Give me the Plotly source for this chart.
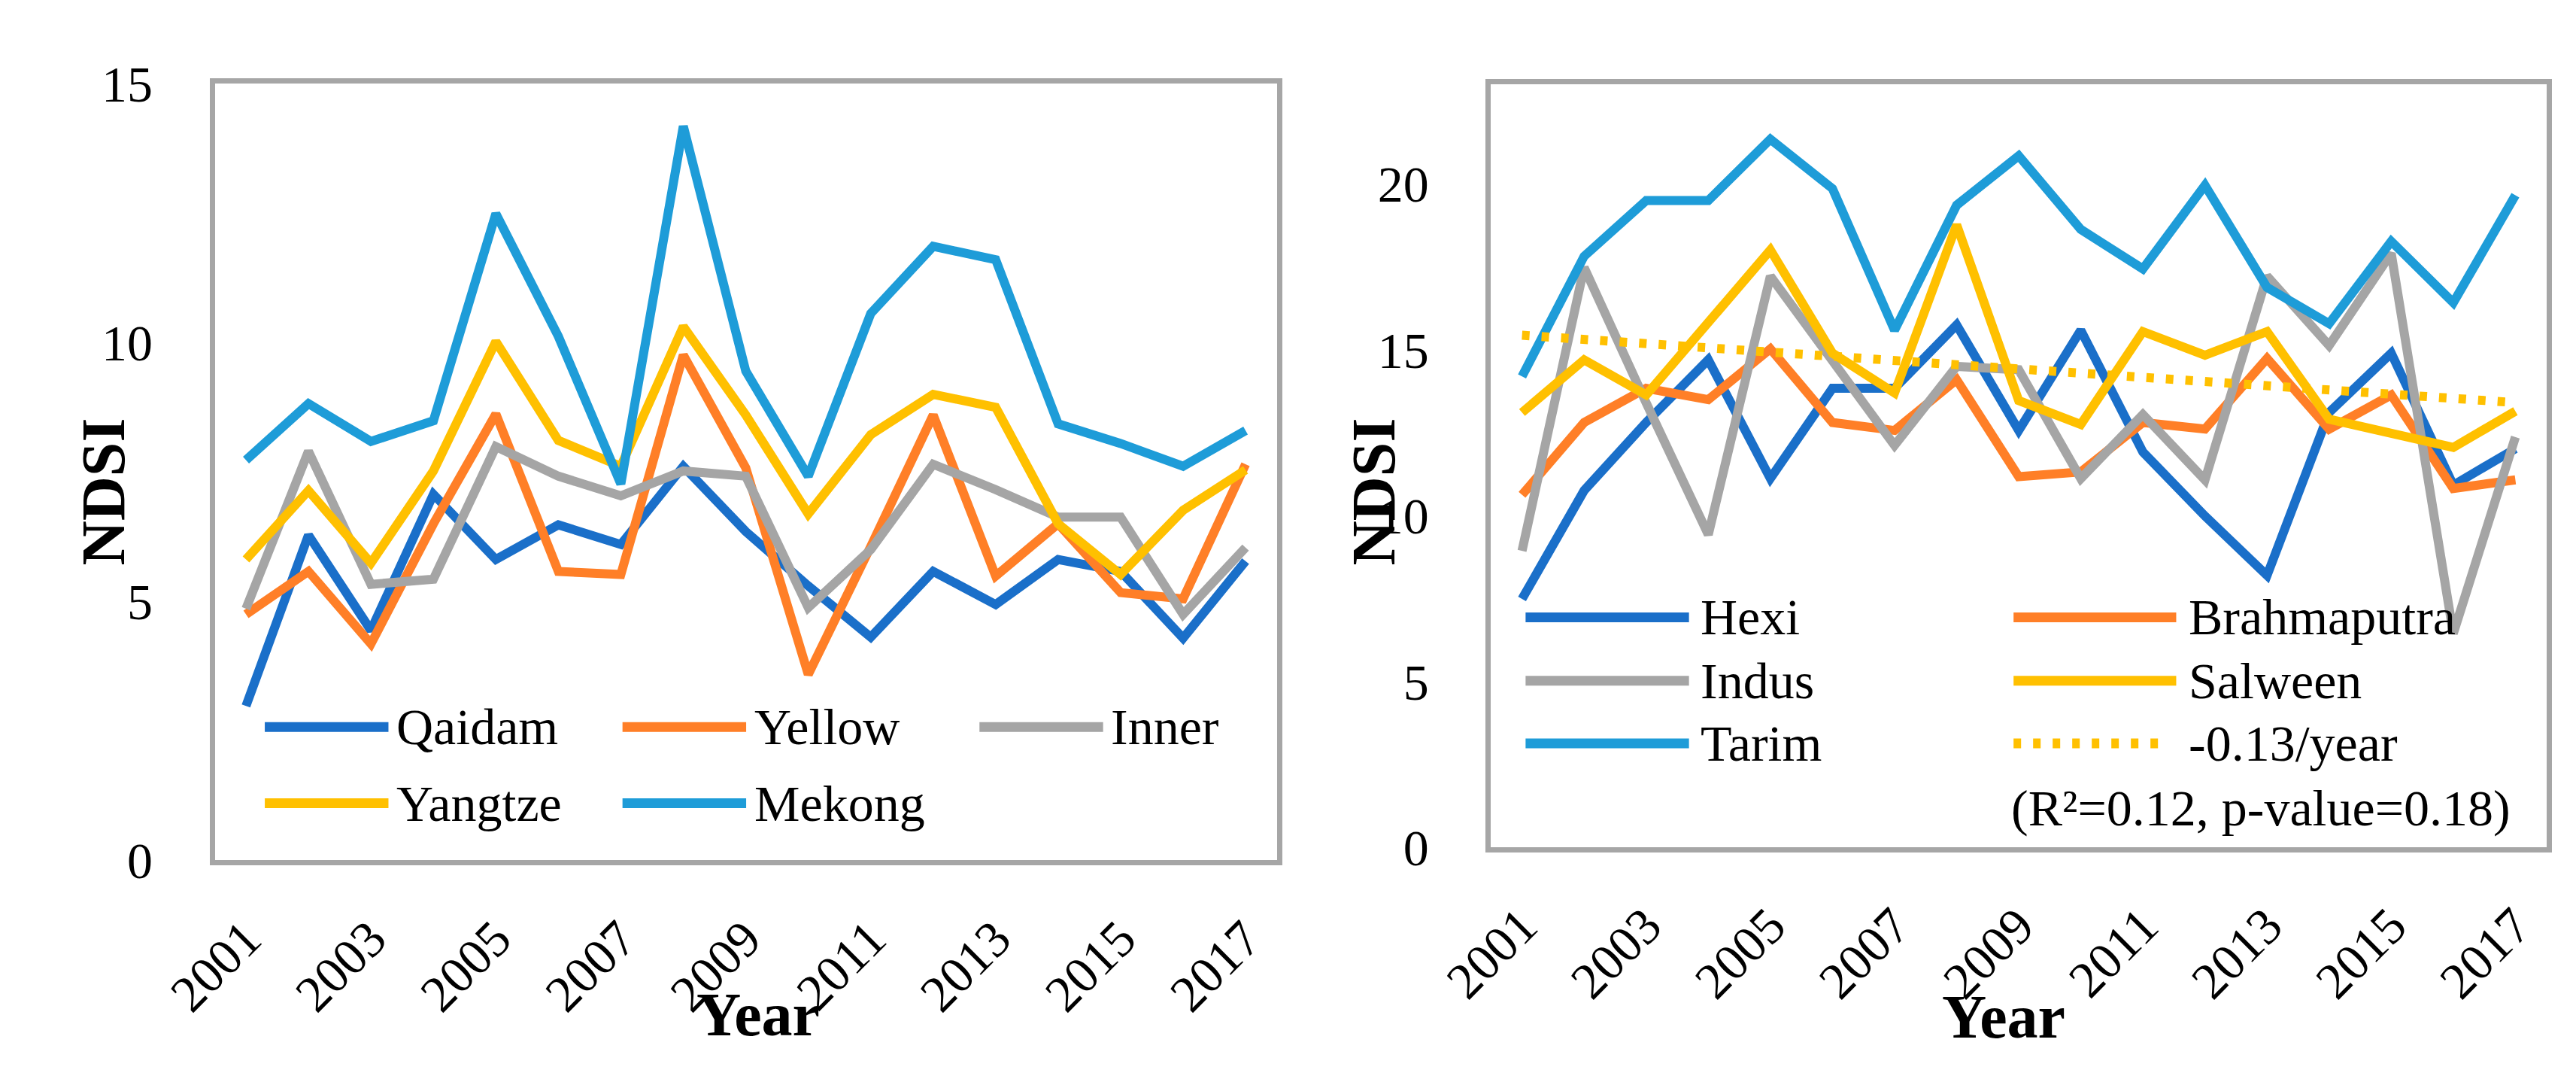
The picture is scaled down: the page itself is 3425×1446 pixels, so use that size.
import plotly.graph_objects as go

W, H = 3425, 1446
OFF = 8  # default body margin of the page
FW, FH = W - 2 * OFF, H - 2 * OFF

years = list(range(2001, 2018))
year_ticks = [2001, 2003, 2005, 2007, 2009, 2011, 2013, 2015, 2017]
year_tick_labels = [str(y) for y in year_ticks]

# Left panel
qaidam = [2.98, 6.28, 4.44, 7.07, 5.81, 6.48, 6.10, 7.61, 6.35, 5.30, 4.31, 5.58, 4.94, 5.81, 5.58, 4.29, 5.78]
yellow = [4.75, 5.58, 4.18, 6.50, 8.62, 5.58, 5.52, 9.76, 7.58, 3.59, 6.06, 8.60, 5.49, 6.50, 5.17, 5.05, 7.65]
inner = [4.86, 7.90, 5.33, 5.43, 7.99, 7.42, 7.04, 7.52, 7.42, 4.88, 6.00, 7.65, 7.16, 6.63, 6.63, 4.75, 6.04]
yangtze = [5.81, 7.14, 5.74, 7.52, 10.02, 8.11, 7.61, 10.31, 8.60, 6.69, 8.22, 9.00, 8.75, 6.50, 5.52, 6.76, 7.54]
mekong = [7.73, 8.82, 8.09, 8.49, 12.49, 10.12, 7.27, 14.18, 9.45, 7.42, 10.56, 11.86, 11.60, 8.43, 8.05, 7.61, 8.30]

# Right panel
hexi = [7.49, 10.76, 12.81, 14.70, 11.12, 13.84, 13.84, 15.75, 12.57, 15.59, 11.92, 9.99, 8.20, 13.11, 14.90, 10.92, 12.02]
brahmaputra = [10.63, 12.81, 13.84, 13.50, 15.03, 12.81, 12.57, 14.10, 11.18, 11.32, 12.81, 12.61, 14.74, 12.61, 13.64, 10.82, 11.08]
indus = [8.94, 17.48, 13.40, 9.43, 17.22, 14.70, 12.12, 14.50, 14.40, 11.12, 13.05, 11.08, 17.22, 15.13, 17.91, 6.45, 12.37]
salween = [13.11, 14.70, 13.64, 15.83, 18.01, 14.90, 13.70, 18.77, 13.47, 12.75, 15.55, 14.84, 15.55, 12.91, 12.45, 12.06, 13.15]
tarim = [14.20, 17.82, 19.50, 19.50, 21.35, 19.86, 15.59, 19.36, 20.85, 18.63, 17.44, 19.96, 16.88, 15.79, 18.27, 16.42, 19.66]
trend_years = [2001, 2017]
trend_vals = [15.44, 13.41]

left_y_ticks = [0, 5, 10, 15]
right_y_ticks = [0, 5, 10, 15, 20]

C_DBLUE = "#1A6FC9"
C_ORANGE = "#FF7F27"
C_GRAY = "#A5A5A5"
C_YELLOW = "#FFC000"
C_LBLUE = "#1E9CD8"
BORDER = "#A6A6A6"
FONT = "Liberation Serif"

def px(x):
    return (x - OFF) / FW

def py(y):
    return 1 - (y - OFF) / FH

fig = go.Figure()
LW = 12
left_series = [("Qaidam", qaidam, C_DBLUE), ("Yellow", yellow, C_ORANGE), ("Inner", inner, C_GRAY),
               ("Yangtze", yangtze, C_YELLOW), ("Mekong", mekong, C_LBLUE)]
right_series = [("Hexi", hexi, C_DBLUE), ("Brahmaputra", brahmaputra, C_ORANGE), ("Indus", indus, C_GRAY),
                ("Salween", salween, C_YELLOW), ("Tarim", tarim, C_LBLUE)]

for name, vals, col in left_series:
    fig.add_trace(go.Scatter(x=years, y=vals, mode="lines", name=name, showlegend=False,
                             line=dict(color=col, width=LW), xaxis="x", yaxis="y"))
for name, vals, col in right_series:
    fig.add_trace(go.Scatter(x=years, y=vals, mode="lines", name=name, showlegend=False,
                             line=dict(color=col, width=LW), xaxis="x2", yaxis="y2"))
fig.add_trace(go.Scatter(x=trend_years, y=trend_vals, mode="lines", name="-0.13/year", showlegend=False,
                         line=dict(color=C_YELLOW, width=LW, dash="10px,16px"), xaxis="x2", yaxis="y2"))

tickfont = dict(family=FONT, size=68, color="black")
common_x = dict(range=[2000.5, 2017.5], tickvals=year_ticks, ticktext=year_tick_labels, tickangle=-45,
                showgrid=False, zeroline=False, showline=True, mirror=True, linecolor=BORDER, linewidth=7,
                ticks="", tickfont=tickfont, ticklabelstandoff=30)
common_y = dict(showgrid=False, zeroline=False, showline=True, mirror=True, linecolor=BORDER, linewidth=7,
                ticks="", tickfont=tickfont, ticklabelstandoff=62)

fig.update_layout(
    width=FW, height=FH, margin=dict(l=0, r=0, t=0, b=0),
    paper_bgcolor="white", plot_bgcolor="white", showlegend=False,
    xaxis=dict(domain=[px(217), px(1660)], anchor="y", **common_x),
    yaxis=dict(domain=[py(1168), py(78)], anchor="x", range=[0, 15], tickvals=left_y_ticks, **common_y),
    xaxis2=dict(domain=[px(1951), px(3385)], anchor="y2", **common_x),
    yaxis2=dict(domain=[py(1150), py(79)], anchor="x2", range=[0, 23], tickvals=right_y_ticks, **common_y),
)

shapes = []
annotations = []
legfont = dict(family=FONT, size=68, color="black")

def leg_item(x0, x1, y, col, text, tx, dash=None):
    line = dict(color=col, width=13)
    if dash:
        line["dash"] = dash
    shapes.append(dict(type="line", xref="paper", yref="paper", x0=px(x0), x1=px(x1), y0=py(y), y1=py(y), line=line))
    annotations.append(dict(xref="paper", yref="paper", x=px(tx), y=py(y), text=text, showarrow=False,
                            xanchor="left", yanchor="middle", font=legfont))

# left legend
leg_item(285, 453, 981, C_DBLUE, "Qaidam", 462)
leg_item(771, 939, 981, C_ORANGE, "Yellow", 948)
leg_item(1256, 1424, 981, C_GRAY, "Inner", 1432)
leg_item(285, 453, 1088, C_YELLOW, "Yangtze", 462)
leg_item(771, 939, 1088, C_LBLUE, "Mekong", 948)

# right legend
leg_item(1998, 2220, 827, C_DBLUE, "Hexi", 2234)
leg_item(2661, 2882, 827, C_ORANGE, "Brahmaputra", 2897)
leg_item(1998, 2220, 916, C_GRAY, "Indus", 2234)
leg_item(2661, 2882, 916, C_YELLOW, "Salween", 2897)
leg_item(1998, 2220, 1004, C_LBLUE, "Tarim", 2234)
leg_item(2661, 2870, 1004, C_YELLOW, "-0.13/year", 2897, dash="10px,16px")
annotations.append(dict(xref="paper", yref="paper", x=px(2656), y=py(1095), text="(R²=0.12, p-value=0.18)",
                        showarrow=False, xanchor="left", yanchor="middle", font=legfont))

titlefont = dict(family=FONT, size=82, color="black")
annotations.append(dict(xref="paper", yref="paper", x=px(66), y=py(651), text="<b>NDSI</b>", textangle=-90,
                        showarrow=False, xanchor="center", yanchor="middle", font=titlefont))
annotations.append(dict(xref="paper", yref="paper", x=px(1792), y=py(651), text="<b>NDSI</b>", textangle=-90,
                        showarrow=False, xanchor="center", yanchor="middle", font=titlefont))
annotations.append(dict(xref="paper", yref="paper", x=px(955), y=py(1385), text="<b>Year</b>",
                        showarrow=False, xanchor="center", yanchor="middle", font=titlefont))
annotations.append(dict(xref="paper", yref="paper", x=px(2648), y=py(1388), text="<b>Year</b>",
                        showarrow=False, xanchor="center", yanchor="middle", font=titlefont))

fig.update_layout(shapes=shapes, annotations=annotations)
fig.write_html("out.html")
